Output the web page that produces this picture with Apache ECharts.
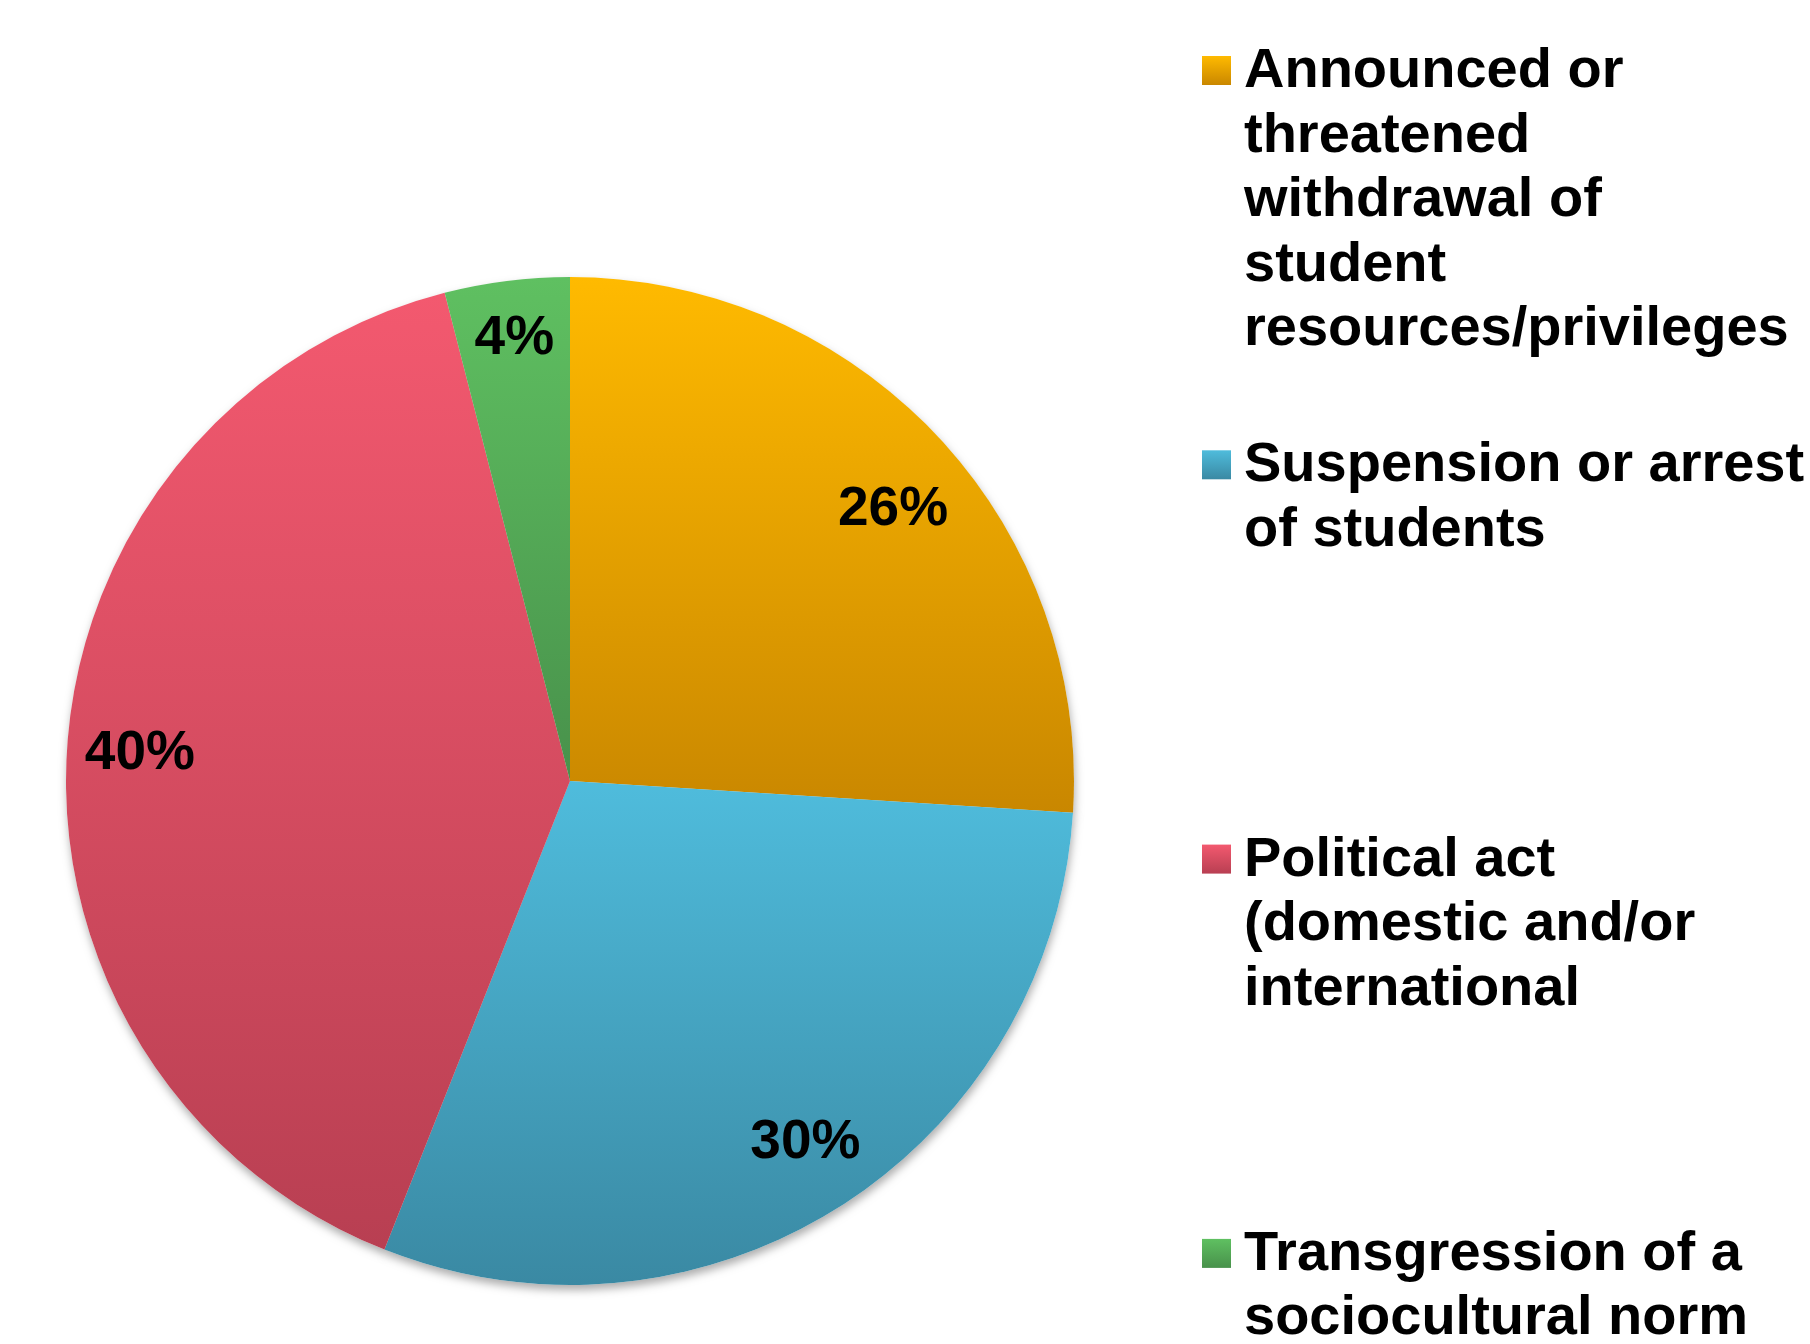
<!DOCTYPE html>
<html>
<head>
<meta charset="utf-8">
<script src="https://cdn.jsdelivr.net/npm/echarts@6/dist/echarts.min.js"></script>
<style>
  html, body { margin: 0; padding: 0; background: #ffffff; }
  #chart { width: 1810px; height: 1344px; }
</style>
</head>
<body>
<div id="chart"></div>
<script>
// Categories, in clockwise order from 12 o'clock
const categories = [
  'Announced or threatened withdrawal of student resources/privileges',
  'Suspension or arrest of students',
  'Political act (domestic and/or international',
  'Transgression of a sociocultural norm'
];
// Legend text, wrapped as displayed
const legendText = [
  'Announced or\nthreatened\nwithdrawal of\nstudent\nresources/privileges',
  'Suspension or arrest\nof students',
  'Political act\n(domestic and/or\ninternational',
  'Transgression of a\nsociocultural norm'
];
// Share of cases, percent
const values = [26, 30, 40, 4];

// Slice fills: vertical gradient, light at top to dark at bottom
const topColors = ['#FFBA00', '#4FBCDC', '#F3596F', '#5FC061'];
const bottomColors = ['#C98700', '#3A89A3', '#B83F52', '#48914B'];
// Small nudges for the percentage labels (best-fit placement)
const labelNudge = [[11, 22], [6, 0], [-3, 0], [-2, -18]];

const FONT = '"Liberation Sans", Arial, Helvetica, sans-serif';

function grad(i) {
  return new echarts.graphic.LinearGradient(0, 0, 0, 1, [
    { offset: 0, color: topColors[i] },
    { offset: 1, color: bottomColors[i] }
  ]);
}

const pieData = categories.map((name, i) => ({
  name: name,
  value: values[i],
  itemStyle: { color: grad(i) }
}));

const center = [570, 781];
const R = 504;

// Legend block on the right: one coloured square plus wrapped text per category
const legendX = 1202;
const firstBaseline = 91;
const itemStep = 394.3;
const fontSize = 56;
const lineH = 64.5;
const legendGraphics = [];
categories.forEach((name, i) => {
  const base = firstBaseline + i * itemStep;
  legendGraphics.push({
    type: 'rect',
    left: legendX,
    top: base - 35,
    shape: { width: 29, height: 29 },
    style: { fill: grad(i) },
    silent: true
  });
  legendGraphics.push({
    type: 'text',
    left: legendX + 42,
    top: base - 51.6,
    style: {
      text: legendText[i],
      font: 'bold ' + fontSize + 'px ' + FONT,
      lineHeight: lineH,
      fill: '#000000',
      verticalAlign: 'top'
    },
    silent: true
  });
});

const chart = echarts.init(document.getElementById('chart'), null, { renderer: 'canvas' });
chart.setOption({
  backgroundColor: '#ffffff',
  animation: false,
  series: [
    {
      // soft drop shadow under the disc
      type: 'pie',
      z: 1,
      center: center,
      radius: [0, R],
      startAngle: 90,
      clockwise: true,
      silent: true,
      label: { show: false },
      labelLine: { show: false },
      emphasis: { disabled: true },
      data: categories.map((name, i) => ({ name: name, value: values[i] })),
      itemStyle: {
        color: '#ffffff',
        shadowBlur: 9,
        shadowOffsetY: 5,
        shadowOffsetX: 1,
        shadowColor: 'rgba(0,0,0,0.32)'
      }
    },
    {
      type: 'pie',
      z: 2,
      center: center,
      radius: [0, R],
      startAngle: 90,
      clockwise: true,
      silent: true,
      label: { show: false },
      labelLine: { show: false },
      emphasis: { disabled: true },
      itemStyle: { borderWidth: 0 },
      data: pieData
    },
    {
      // percentage labels, placed on an outer ring of the same slices
      type: 'pie',
      z: 3,
      center: center,
      radius: [346, R],
      startAngle: 90,
      clockwise: true,
      silent: true,
      emphasis: { disabled: true },
      itemStyle: { color: 'rgba(0,0,0,0)', borderWidth: 0 },
      labelLine: { show: false },
      label: {
        show: true,
        position: 'inside',
        formatter: p => p.value + '%',
        color: '#000000',
        fontFamily: FONT,
        fontWeight: 'bold',
        fontSize: 55
      },
      data: categories.map((name, i) => ({
        name: name,
        value: values[i],
        label: { offset: labelNudge[i] }
      }))
    }
  ],
  graphic: legendGraphics
});
</script>
</body>
</html>
